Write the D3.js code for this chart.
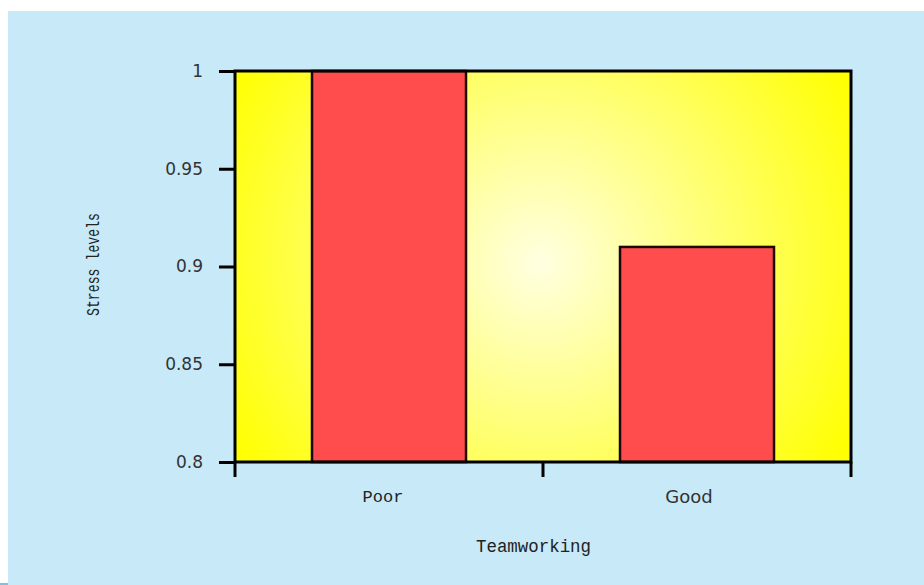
<!DOCTYPE html>
<html>
<head>
<meta charset="utf-8">
<script src="https://cdn.jsdelivr.net/npm/d3@7"></script>
<style>
  html, body { margin: 0; padding: 0; background: #ffffff; }
  svg { display: block; }
</style>
</head>
<body>
<svg id="chart" width="924" height="585"></svg>
<script>
// Stress levels by quality of teamworking
const categories = ["Poor", "Good"];
const stressValues = [1.0, 0.91];
const yTickValues = [0.8, 0.85, 0.9, 0.95, 1];
const yTickLabels = ["0.8", "0.85", "0.9", "0.95", "1"];
const xTitle = "Teamworking";
const yTitle = "Stress levels";

const svg = d3.select("#chart");
const W = 924, H = 585;
const plot = { left: 235, right: 851, top: 71, bottom: 462 };
const monoFont = "'Courier New', Courier, 'Liberation Mono', monospace";

// page panel
svg.append("rect").attr("x", 8).attr("y", 11).attr("width", W - 8).attr("height", H - 11)
  .attr("fill", "#c7e9f8");
svg.append("rect").attr("x", 0).attr("y", 583).attr("width", 8).attr("height", 2)
  .attr("fill", "#7cc3e3");

const x = d3.scaleBand().domain(categories).range([plot.left, plot.right]).paddingInner(0.5).paddingOuter(0.25);
const y = d3.scaleLinear().domain([0.8, 1]).range([plot.bottom, plot.top]);

// radial yellow backdrop
const defs = svg.append("defs");
const grad = defs.append("radialGradient").attr("id", "bgGrad")
  .attr("gradientUnits", "userSpaceOnUse")
  .attr("cx", 540).attr("cy", 262).attr("r", 360);
grad.append("stop").attr("offset", "0%").attr("stop-color", "#ffffe2");
grad.append("stop").attr("offset", "100%").attr("stop-color", "#ffff00");

svg.append("rect")
  .attr("x", plot.left).attr("y", plot.top)
  .attr("width", plot.right - plot.left).attr("height", plot.bottom - plot.top)
  .attr("fill", "url(#bgGrad)");

// bars
svg.append("g").selectAll("rect")
  .data(categories.map((c, i) => ({ c, v: stressValues[i] })))
  .join("rect")
  .attr("x", d => x(d.c))
  .attr("y", d => y(d.v))
  .attr("width", x.bandwidth())
  .attr("height", d => y(0.8) - y(d.v))
  .attr("fill", "#ff4d4d")
  .attr("stroke", "#1e0505")
  .attr("stroke-width", 2.5);

// plot frame
svg.append("rect")
  .attr("x", plot.left).attr("y", plot.top)
  .attr("width", plot.right - plot.left).attr("height", plot.bottom - plot.top)
  .attr("fill", "none").attr("stroke", "#000").attr("stroke-width", 3);

// y axis ticks and labels
const yAxis = d3.axisLeft(y).tickValues(yTickValues)
  .tickFormat((d, i) => yTickLabels[i]).tickSize(16).tickSizeOuter(0).tickPadding(16);
const gy = svg.append("g").attr("transform", `translate(${plot.left},0)`).call(yAxis);
gy.select(".domain").remove();
gy.selectAll(".tick line").attr("stroke", "#000").attr("stroke-width", 3);
gy.selectAll(".tick text")
  .attr("font-family", "'DejaVu Sans', sans-serif").attr("font-size", 17)
  .attr("fill", "#333");

// x axis: ticks at band boundaries
const bounds = [plot.left, plot.left + (plot.right - plot.left) / 2, plot.right];
svg.append("g").selectAll("line").data(bounds).join("line")
  .attr("x1", d => d).attr("x2", d => d)
  .attr("y1", plot.bottom).attr("y2", plot.bottom + 15)
  .attr("stroke", "#000").attr("stroke-width", 3);

// category labels
svg.append("text").attr("x", x("Poor") + x.bandwidth() / 2 - 6).attr("y", 502)
  .attr("text-anchor", "middle")
  .attr("font-family", monoFont).attr("font-size", 17)
  .attr("fill", "#222").text(categories[0]);
svg.append("text").attr("x", x("Good") + x.bandwidth() / 2 - 8).attr("y", 503)
  .attr("text-anchor", "middle")
  .attr("font-family", "'DejaVu Sans', sans-serif").attr("font-size", 18)
  .attr("fill", "#333").text(categories[1]);

// axis titles
svg.append("text").attr("x", 476).attr("y", 552)
  .attr("font-family", monoFont).attr("font-size", 18)
  .attr("textLength", 115).attr("lengthAdjust", "spacingAndGlyphs")
  .attr("fill", "#222").text(xTitle);
svg.append("text")
  .attr("transform", "translate(99,316) rotate(-90)")
  .attr("font-family", monoFont).attr("font-size", 18)
  .attr("textLength", 103).attr("lengthAdjust", "spacingAndGlyphs")
  .attr("fill", "#222").text(yTitle);
</script>
</body>
</html>
